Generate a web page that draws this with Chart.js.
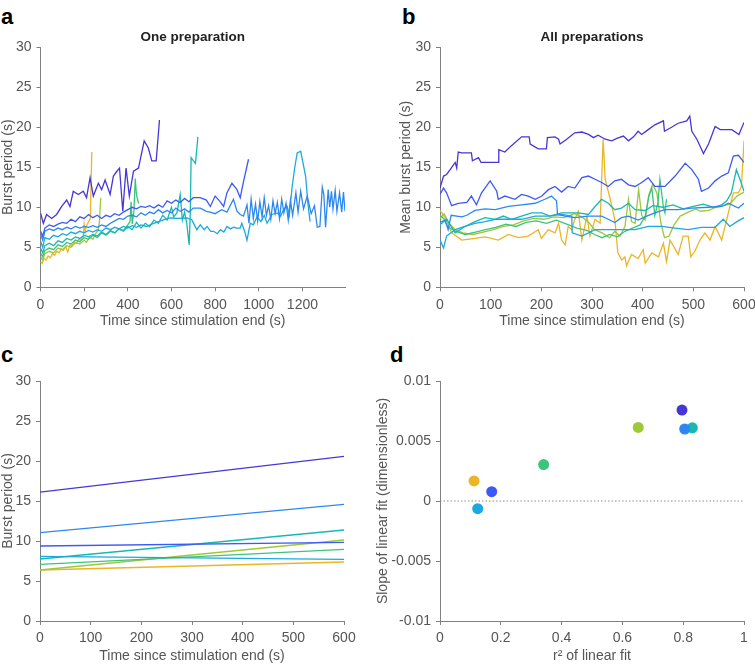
<!DOCTYPE html>
<html>
<head>
<meta charset="utf-8">
<script src="https://cdn.jsdelivr.net/npm/chart.js@4.4.1/dist/chart.umd.min.js"></script>
<style>
  body { margin: 0; background: #fff; width: 755px; height: 665px; position: relative; overflow: hidden; }
  canvas { position: absolute; }
  .lbl { position: absolute; font-family: "Liberation Sans", Arial, sans-serif; font-weight: bold; font-size: 22px; line-height: 22px; color: #000; }
</style>
</head>
<body>
<div class="lbl" style="left:1px;top:6px">a</div>
<div class="lbl" style="left:402px;top:6px">b</div>
<div class="lbl" style="left:1px;top:344px">c</div>
<div class="lbl" style="left:390px;top:344px">d</div>
<canvas id="chartA" width="375" height="330" style="left:0;top:0;width:375px;height:330px"></canvas>
<canvas id="chartB" width="380" height="330" style="left:375px;top:0;width:380px;height:330px"></canvas>
<canvas id="chartC" width="375" height="335" style="left:0;top:330px;width:375px;height:335px"></canvas>
<canvas id="chartD" width="380" height="335" style="left:375px;top:330px;width:380px;height:335px"></canvas>
<script>
// series colours (one per preparation)
const colors = ['#4636D8', '#3C5AF6', '#2C88F0', '#1CA8E0', '#17B8B2', '#3CC47E', '#9CC83A', '#ECB526'];

// --- panel a: one preparation, [time (s), burst period (s)]
const a1 = [[0,9.3],[13,8.0],[28,9.1],[51,8.6],[74,9.1],[97,10.1],[120,10.9],[135,10.1],[150,12.0],[173,11.6],[196,12.0],[211,11.2],[227,13.7],[242,11.4],[265,13.0],[280,12.2],[296,13.4],[319,11.6],[334,13.9],[350,14.5],[362,14.9],[377,9.5],[392,14.9],[407,11.4],[426,14.5],[449,14.9],[475,18.3],[494,17.4],[510,15.8],[530,15.8],[545,20.9]];
const a2 = [[0,7.0],[10,6.4],[20,7.4],[40,7.8],[60,7.6],[80,7.9],[100,8.1],[120,8.0],[140,8.5],[160,8.2],[180,8.8],[200,8.6],[220,9.1],[240,8.7],[260,9.0],[280,8.6],[300,9.0],[320,8.8],[340,9.2],[360,9.0],[380,9.4],[400,9.7],[420,10.0],[440,9.8],[460,10.1],[480,10.0],[500,10.2],[520,9.9],[540,10.3],[560,10.0],[580,10.8],[600,10.5],[620,10.9],[640,10.6],[660,11.1],[680,10.7],[700,11.2],[732,11.2],[760,10.9],[778,10.1],[800,11.4],[820,10.8],[839,10.1],[854,11.8],[877,13.0],[900,12.2],[915,11.2],[930,13.2],[953,16.0]];
const a3 = [[0,6.6],[10,5.9],[20,7.0],[40,7.3],[60,7.1],[80,7.4],[100,7.2],[120,7.5],[140,7.3],[160,7.6],[180,7.4],[200,7.6],[220,7.5],[240,7.7],[260,7.5],[280,7.8],[300,7.6],[320,8.0],[340,8.3],[360,8.6],[380,8.5],[400,8.9],[420,9.0],[440,8.8],[460,9.3],[480,9.0],[500,9.4],[520,9.2],[540,9.7],[560,9.3],[580,9.6],[600,9.3],[620,9.9],[640,9.5],[660,9.8],[680,9.4],[700,9.9],[732,9.9],[760,9.5],[778,9.4],[800,9.2],[830,9.7],[854,9.4],[884,11.0],[900,9.5],[915,9.1],[930,8.9],[946,10.3],[955,8.0],[965,11.0],[975,8.6],[985,10.4],[995,8.3],[1005,10.7],[1015,8.8],[1025,11.2],[1035,9.0],[1045,10.2],[1055,8.5],[1065,10.8],[1075,9.2],[1085,10.6],[1095,8.6],[1105,11.0],[1115,9.3],[1125,10.5],[1135,8.4],[1145,10.9],[1155,9.0],[1170,11.8],[1180,9.4],[1192,12.0],[1205,9.8],[1222,11.4],[1240,9.2],[1255,10.2],[1268,7.5],[1280,7.6],[1291,12.5],[1298,11.6],[1306,7.5],[1318,12.2],[1325,10.0],[1333,12.0],[1340,9.8],[1350,12.1],[1358,9.5],[1370,11.8],[1380,9.4],[1388,11.9],[1395,9.5]];
const a4 = [[0,5.8],[10,5.0],[20,6.2],[40,6.0],[60,6.5],[80,6.3],[100,6.7],[120,6.5],[140,6.9],[160,6.7],[180,7.0],[200,6.8],[220,7.1],[240,6.9],[260,7.2],[280,7.0],[300,7.4],[320,7.2],[340,7.5],[360,7.3],[380,7.6],[400,7.4],[420,7.7],[440,7.5],[460,7.8],[487,7.6],[510,7.9],[540,8.2],[570,8.5],[594,8.66],[630,8.6],[670,8.66],[693,8.45],[705,7.8],[716,7.2],[732,7.8],[750,7.2],[763,7.6],[780,7.0],[793,7.0],[810,6.7],[824,7.2],[840,6.9],[854,7.6],[870,7.3],[885,7.5],[900,7.4],[915,7.4],[922,8.0],[935,7.0],[946,5.9],[961,8.0],[975,7.8],[992,8.8],[1010,8.2],[1025,9.0],[1038,8.0],[1060,9.1],[1084,9.3],[1100,8.9],[1115,9.8],[1130,10.1],[1140,9.0],[1153,12.6],[1165,15.0],[1176,16.8],[1192,17.0],[1205,15.2],[1215,13.8],[1225,10.5],[1235,8.2]];
const a5 = [[0,4.9],[10,4.3],[20,5.2],[40,5.5],[60,5.2],[80,5.8],[100,5.6],[120,6.1],[140,5.9],[160,6.3],[180,6.1],[200,6.5],[220,6.3],[240,6.6],[260,6.4],[280,6.9],[300,6.6],[320,7.1],[340,6.8],[360,7.3],[380,7.0],[400,7.6],[420,7.2],[440,8.1],[460,7.4],[480,8.0],[500,7.6],[520,8.4],[540,8.0],[560,9.0],[580,8.4],[600,10.0],[610,8.8],[625,9.3],[640,11.6],[650,8.4],[660,9.4],[670,8.0],[681,5.3],[686,9.0],[690,16.2],[701,15.8],[710,15.5],[721,18.8]];
const a6 = [[0,4.3],[10,3.8],[20,4.6],[40,4.9],[60,4.7],[80,5.3],[100,5.1],[120,5.6],[140,5.4],[160,5.9],[180,5.7],[200,6.2],[220,6.0],[240,6.5],[260,6.2],[280,6.8],[300,6.5],[320,7.0],[340,6.8],[360,7.3],[380,7.1],[400,7.8],[410,8.2],[415,10.7],[420,7.9],[428,9.5],[434,13.6],[440,11.5],[449,10.5]];
const a7 = [[0,3.8],[10,3.4],[20,4.2],[40,4.5],[60,4.3],[80,4.9],[100,4.7],[120,5.2],[140,5.0],[160,5.6],[180,5.4],[200,5.9],[210,5.6],[225,6.3],[240,6.0],[250,6.6],[265,7.2],[270,8.2],[276,11.2]];
const a8 = [[0,3.2],[8,3.0],[15,3.6],[25,3.4],[35,3.9],[45,3.7],[55,4.2],[65,4.0],[75,4.5],[85,4.3],[95,4.8],[105,4.6],[115,5.1],[125,4.4],[135,5.3],[145,5.2],[155,5.6],[165,5.5],[175,6.0],[185,5.9],[196,6.3],[200,7.9],[205,7.0],[210,7.6],[220,8.2],[228,8.6],[235,16.9]];

// --- panel b: all preparations, [time (s), mean burst period (s)]
const b1 = [[0,12.4],[7,13.9],[13,14.1],[20,14.7],[30,15.6],[33,14.9],[36,16.9],[43,16.8],[62,16.8],[64,15.8],[76,16.2],[81,15.6],[95,15.6],[115,15.6],[116,17.2],[128,16.9],[141,17.7],[161,18.8],[176,18.8],[178,17.9],[194,17.3],[210,17.3],[212,18.7],[227,18.8],[234,18.5],[237,17.9],[250,18.5],[266,19.3],[280,19.4],[293,19.1],[303,18.7],[312,19.0],[326,18.5],[339,18.3],[349,18.6],[362,18.9],[372,18.3],[382,18.8],[391,19.5],[398,19.1],[411,19.7],[424,20.3],[441,20.8],[443,19.5],[457,20.0],[470,20.5],[487,20.8],[493,21.4],[497,19.5],[507,18.5],[520,16.7],[530,17.9],[543,20.1],[553,19.7],[576,19.7],[590,19.1],[600,20.6]];
const b2 = [[0,11.6],[7,12.4],[13,11.8],[23,10.2],[36,10.5],[53,10.6],[62,11.4],[72,10.3],[82,11.8],[99,13.3],[112,12.0],[115,11.0],[128,11.4],[148,11.0],[161,11.6],[174,11.4],[188,11.0],[201,11.4],[214,12.2],[227,12.6],[240,11.9],[253,12.6],[266,12.4],[280,13.7],[293,13.9],[306,13.5],[319,13.1],[332,12.6],[345,13.3],[358,13.5],[372,12.8],[385,12.6],[398,13.1],[411,13.7],[424,12.6],[444,12.6],[464,13.9],[484,15.5],[497,14.7],[510,13.5],[516,12.0],[530,12.4],[543,13.3],[556,13.9],[569,14.3],[579,16.4],[589,16.5],[600,15.6]];
const b3 = [[0,8.1],[10,8.4],[16,7.2],[22,9.0],[43,8.8],[53,9.0],[69,9.6],[89,9.8],[109,9.7],[135,10.1],[161,10.3],[188,10.5],[207,11.0],[220,11.4],[230,10.8],[232,9.1],[247,8.9],[266,8.7],[293,8.9],[319,8.9],[332,8.5],[345,8.1],[358,8.7],[372,8.9],[391,8.4],[408,8.9],[424,9.3],[444,9.7],[470,9.7],[497,9.9],[530,10.0],[556,10.1],[569,10.5],[589,9.9],[600,10.5]];
const b4 = [[0,5.9],[7,4.9],[13,6.4],[30,7.2],[49,7.6],[69,8.0],[89,8.2],[109,8.5],[135,8.5],[161,8.5],[188,8.9],[214,8.9],[240,9.1],[260,8.9],[261,6.8],[280,6.4],[306,7.2],[332,7.2],[358,7.2],[385,7.2],[411,7.6],[438,7.6],[464,7.4],[490,7.2],[516,7.5],[543,7.5],[559,8.5],[572,7.6],[586,8.2],[600,8.7]];
const b5 = [[0,7.8],[13,8.5],[30,6.8],[49,7.6],[69,8.2],[89,8.7],[109,8.5],[125,8.9],[141,8.5],[161,8.9],[181,9.3],[201,9.3],[217,8.9],[240,9.3],[260,9.3],[273,9.3],[293,9.1],[306,10.1],[319,11.0],[332,10.5],[345,9.7],[358,9.9],[372,10.5],[385,9.7],[405,9.6],[420,10.2],[440,10.0],[460,10.3],[480,9.8],[500,10.1],[520,10.4],[540,10.0],[556,10.3],[566,10.8],[575,11.8],[585,14.7],[592,13.5],[600,12.0]];
const b6 = [[0,9.0],[7,8.6],[15,7.6],[30,7.0],[50,6.6],[70,6.9],[90,7.2],[110,7.5],[130,7.9],[150,7.6],[170,8.1],[190,8.3],[210,8.0],[230,8.4],[250,7.9],[270,7.4],[290,7.1],[305,6.6],[320,6.2],[335,6.6],[350,6.3],[365,7.0],[380,7.4],[395,7.8],[405,8.9],[412,11.3],[418,12.4],[424,9.0],[430,10.5],[434,13.5],[441,10.0],[444,9.3],[447,11.0]];
const b7 = [[0,8.6],[8,9.2],[18,8.0],[30,7.2],[45,6.8],[65,6.6],[85,6.9],[105,7.2],[125,7.6],[145,7.8],[165,8.3],[185,8.6],[205,8.5],[225,8.8],[245,8.7],[265,9.2],[280,8.8],[295,8.0],[305,7.2],[320,6.8],[335,6.2],[345,7.0],[355,6.4],[365,7.6],[372,11.0],[378,8.2],[385,8.0],[392,12.2],[398,9.0],[405,8.4],[412,11.5],[420,12.9],[428,11.8],[436,8.0],[443,6.2],[452,6.4],[462,7.8],[474,8.9],[490,9.4],[505,9.8],[514,9.5],[530,9.6],[545,10.0],[560,10.2],[572,10.4],[586,11.4],[600,11.9]];
const b8 = [[0,9.6],[10,8.7],[23,6.8],[43,5.9],[69,6.1],[89,6.3],[115,5.9],[135,6.6],[155,6.2],[174,6.4],[194,7.2],[200,6.1],[214,7.2],[227,6.8],[234,8.0],[240,5.9],[247,5.3],[253,7.6],[260,7.2],[266,8.5],[273,9.5],[280,5.9],[290,8.9],[296,6.4],[306,8.5],[316,8.0],[322,18.5],[326,13.5],[336,11.0],[345,8.5],[351,4.3],[359,3.4],[365,3.8],[368,2.7],[378,4.1],[391,3.6],[401,4.7],[405,3.0],[418,4.3],[431,3.8],[441,5.5],[447,3.2],[454,5.9],[462,5.0],[470,4.1],[480,6.4],[490,6.4],[495,3.8],[503,4.5],[513,5.9],[523,6.8],[533,5.9],[543,7.6],[556,5.9],[566,8.5],[579,11.8],[589,11.8],[595,12.6],[600,18.3]];

// --- panel c: linear fits, burst period at t = 0 s and t = 600 s
const fitTimes = [0, 600];
const fitStart = [16.1, 9.375, 11.04, 8.08, 7.75, 7.08, 6.375, 6.375];
const fitEnd   = [20.58, 9.83, 14.58, 7.71, 11.375, 8.96, 10.125, 7.375];

// --- panel d: r^2 and slope of each linear fit
const rSquared = [0.796, 0.17, 0.805, 0.124, 0.83, 0.341, 0.652, 0.112];
const slopes   = [0.00758, 0.00078, 0.0060, -0.00064, 0.0061, 0.00304, 0.00613, 0.00167];
const zeroLine = [[0, 0], [1, 0]];

// tick values
const ticksA = [0, 200, 400, 600, 800, 1000, 1200];
const ticksTime = [0, 100, 200, 300, 400, 500, 600];
const ticksPeriod = [0, 5, 10, 15, 20, 25, 30];
const ticksR2 = [0, 0.2, 0.4, 0.6, 0.8, 1];
const ticksSlope = [-0.01, -0.005, 0, 0.005, 0.01];

const FONT = '"Liberation Sans", Arial, sans-serif';
Chart.defaults.font.family = FONT;
Chart.defaults.color = '#555555';

function axis(opts) {
  return {
    type: 'linear',
    min: opts.min,
    max: opts.max,
    grid: { display: true, drawOnChartArea: false, drawTicks: true, tickLength: 4, color: '#808080' },
    border: { display: true, color: '#808080', width: 1 },
    ticks: {
      font: { size: 14 },
      color: '#555555',
      padding: 5,
      maxRotation: 0,
      autoSkip: false,
      callback: v => String(+v.toFixed(4))
    },
    title: { display: true, text: opts.title, font: { size: 14 }, color: '#555555', padding: 0 },
    afterBuildTicks: s => { s.ticks = opts.ticks.map(v => ({ value: v })); },
    afterFit: s => {
      if (opts.width !== undefined) { s.width = opts.width; s.paddingTop = 0; s.paddingBottom = 0; }
      if (opts.height !== undefined) { s.height = opts.height; s.paddingLeft = 0; s.paddingRight = 0; }
    }
  };
}

function lines(series) {
  return series.map((d, i) => ({
    data: d,
    borderColor: colors[i],
    borderWidth: 1.3,
    pointRadius: 0,
    fill: false,
    tension: 0
  }));
}

function baseOptions(padding, title, x, y) {
  return {
    responsive: false,
    animation: false,
    layout: { padding: padding },
    plugins: {
      legend: { display: false },
      tooltip: { enabled: false },
      title: title ? {
        display: true,
        fullSize: false,  // centre over the plot area, not the canvas
        text: title,
        color: '#222222',
        font: { size: 13.5, weight: 'bold' },
        padding: { top: 29, bottom: 2 }
      } : { display: false }
    },
    scales: { x: x, y: y }
  };
}

new Chart(document.getElementById('chartA'), {
  type: 'line',
  data: { datasets: lines([a1, a2, a3, a4, a5, a6, a7, a8]) },
  options: baseOptions({ left: 0, right: 30, top: 0, bottom: 0 }, 'One preparation',
    axis({ min: 0, max: 1395, ticks: ticksA, title: 'Time since stimulation end (s)', height: 42.7 }),
    axis({ min: 0, max: 30, ticks: ticksPeriod, title: 'Burst period (s)', width: 40.5 }))
});

new Chart(document.getElementById('chartB'), {
  type: 'line',
  data: { datasets: lines([b1, b2, b3, b4, b5, b6, b7, b8]) },
  options: baseOptions({ left: 23, right: 11, top: 0, bottom: 0 }, 'All preparations',
    axis({ min: 0, max: 600, ticks: ticksTime, title: 'Time since stimulation end (s)', height: 42.7 }),
    axis({ min: 0, max: 30, ticks: ticksPeriod, title: 'Mean burst period (s)', width: 42 }))
});

const fitSeries = fitStart.map((s, i) => [[fitTimes[0], s], [fitTimes[1], fitEnd[i]]]);
new Chart(document.getElementById('chartC'), {
  type: 'line',
  data: { datasets: lines(fitSeries) },
  options: baseOptions({ left: 0, right: 31, top: 51, bottom: 0 }, null,
    axis({ min: 0, max: 600, ticks: ticksTime, title: 'Time since stimulation end (s)', height: 44 }),
    axis({ min: 0, max: 30, ticks: ticksPeriod, title: 'Burst period (s)', width: 40 }))
});

const pointSets = rSquared.map((r, i) => ({
  type: 'scatter',
  data: [[r, slopes[i]]],
  backgroundColor: colors[i],
  borderWidth: 0,
  pointRadius: 5.5
}));
new Chart(document.getElementById('chartD'), {
  type: 'scatter',
  data: {
    datasets: [{
      type: 'line',
      data: zeroLine,
      borderColor: '#8c8c8c',
      borderWidth: 1,
      borderDash: [1.5, 2],
      pointRadius: 0,
      fill: false
    }].concat(pointSets)
  },
  options: baseOptions({ left: 0, right: 11, top: 51, bottom: 0 }, null,
    axis({ min: 0, max: 1, ticks: ticksR2, title: 'r² of linear fit', height: 44 }),
    axis({ min: -0.01, max: 0.01, ticks: ticksSlope, title: 'Slope of linear fit (dimensionless)', width: 65 }))
});
</script>
</body>
</html>
